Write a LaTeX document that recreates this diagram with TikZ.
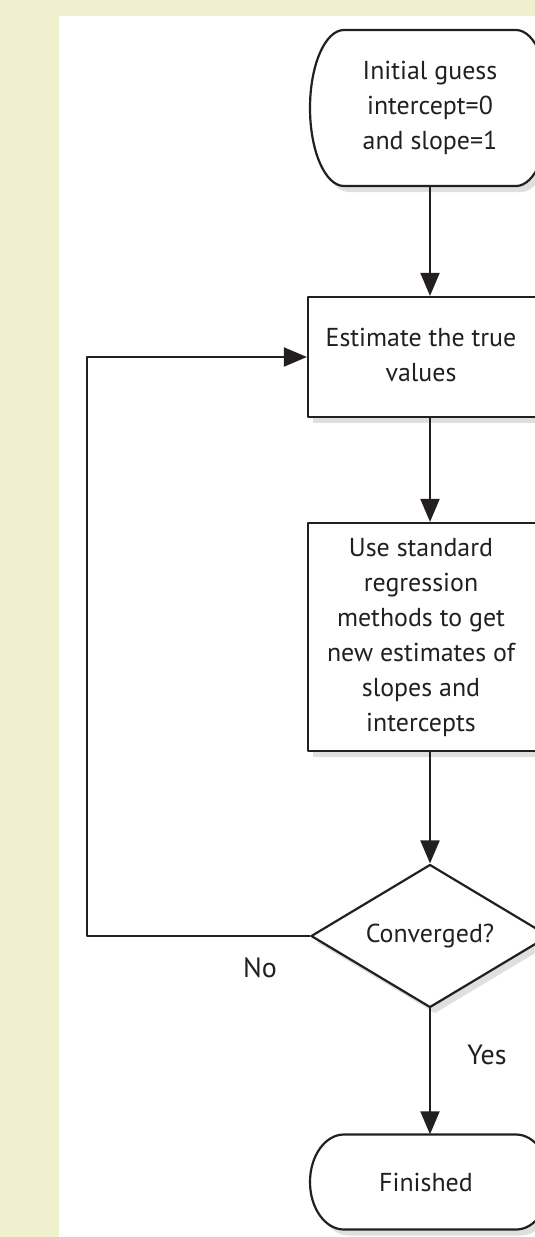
\documentclass[tikz,border=0pt]{standalone}
\usepackage{fontspec}
\setmainfont{PT Sans}
\usepackage{tikz}
\usetikzlibrary{arrows.meta,shapes.geometric,shadows}
\definecolor{PageBg}{RGB}{240,240,206}
\definecolor{InkColor}{RGB}{35,31,32}
\newcommand{\MainColor}{InkColor}
% text lines pushed a little left of the box centre
\newcommand{\offtext}[1]{\begin{tabular}{@{}c@{}}#1\end{tabular}\hspace{18bp}\null}
% terminal: outline with half-ellipse ends, then the named node
\newcommand{\terminal}[5]{%
  \draw[shapeline] (#2-86,#3-#4) -- (#2+86,#3-#4)
    arc[start angle=90,end angle=-90,x radius=34bp,y radius=#4 bp]
    -- (#2-86,#3+#4)
    arc[start angle=270,end angle=90,x radius=34bp,y radius=#4 bp] -- cycle;
  \node[align=center,minimum width=240bp,minimum height=2*#4 bp] (#1) at (#2,#3) {#5};}

\begin{document}
\begin{tikzpicture}[line cap=round,line join=round,x=1bp,y=-1bp,
  >={Triangle[width=19bp,length=23bp]},
  every node/.style={text=\MainColor,font=\fontsize{26}{35}\selectfont},
  shadowed/.style={drop shadow={shadow xshift=5bp,shadow yshift=-6bp,
      fill=black!50,opacity=.25}},
  shapeline/.style={draw=\MainColor,line width=2.2bp,fill=white,shadowed},
  stepbox/.style={rectangle,shapeline,minimum width=244bp},
  decision/.style={diamond,shapeline,aspect=1.66,inner sep=0pt,
      minimum width=238bp,minimum height=143bp},
  arr/.style={->,draw=\MainColor,line width=2bp},
  lbl/.style={font=\fontsize{28}{34}\selectfont}]
  \useasboundingbox (0,0) rectangle (535,1237);
  \clip (0,0) rectangle (535,1237);
  \fill[PageBg] (0,0) rectangle (535,1237);
  \fill[white] (59,16) rectangle (535,1237);

  \terminal{start}{430}{108}{78}{Initial guess\\intercept=0\\and slope=1}
  \node[stepbox,minimum height=120bp] (est) at (430,357)
    {\offtext{Estimate the true\\values}};
  \node[stepbox,minimum height=228bp] (regr) at (430,637)
    {\offtext{Use standard\\regression\\methods to get\\new estimates of\\slopes and\\intercepts}};
  \node[decision] (conv) at (430,936) {Converged?};
  \terminal{fin}{430}{1182}{47.5}{\hspace*{-8bp}Finished}
  \coordinate (loop) at (87,936);

  \draw[arr] (start.south) -- (est.north);
  \draw[arr] (est.south) -- (regr.north);
  \draw[arr] (regr.south) -- (conv.north);
  \draw[arr] (conv.south) -- (fin.north);
  \draw[arr] (conv.west) -- (loop) |- (est.west);

  \node[lbl] (no) at (260,968) {No};
  \node[lbl] (yes) at (487,1055) {Yes};
\end{tikzpicture}
\end{document}
